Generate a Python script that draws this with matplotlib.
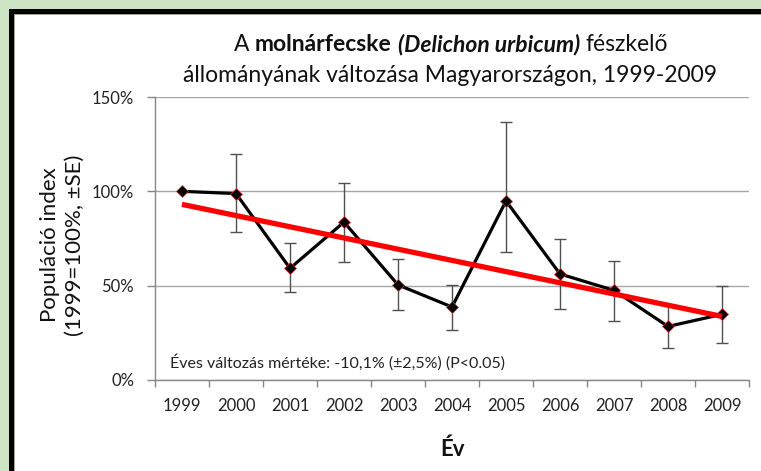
import numpy as np
import matplotlib.pyplot as plt
from matplotlib.patches import Rectangle

years = ['1999', '2000', '2001', '2002', '2003', '2004', '2005', '2006', '2007', '2008', '2009']
index = [100, 98.8, 59.2, 83.7, 50.4, 38.7, 94.9, 56.2, 47.5, 28.4, 34.8]
se_low = [100, 78.7, 46.6, 62.8, 37.1, 26.4, 67.9, 37.6, 31.2, 16.9, 19.5]
se_high = [100, 119.7, 72.5, 104.4, 64.2, 50.4, 136.7, 74.5, 63.1, 39.9, 49.8]
trend_ends = [93.1, 33.7]

W, H = 761, 471
plt.rcParams['font.family'] = ['Lato', 'DejaVu Sans']

fig = plt.figure(figsize=(W / 100, H / 100), dpi=100)
fig.patch.set_facecolor('#cde5c4')

def px(x):
    return x / W

def py(y):
    return 1 - y / H

# frame: black border, thin grey line, white inside
fig.add_artist(Rectangle((px(9), 0), 1, py(9), transform=fig.transFigure,
                         facecolor='black', edgecolor='none', zorder=-3))
fig.add_artist(Rectangle((px(13.5), 0), 1, py(13.5), transform=fig.transFigure,
                         facecolor='#a0a0a0', edgecolor='none', zorder=-2))
fig.add_artist(Rectangle((px(14.5), 0), 1, py(14.5), transform=fig.transFigure,
                         facecolor='white', edgecolor='none', zorder=-1))

ax = fig.add_axes([px(155), py(380), px(749) - px(155), py(97) - py(380)])
ax.set_facecolor('none')

x = np.arange(len(years))
idx = np.array(index)
yerr = [idx - np.array(se_low), np.array(se_high) - idx]
ax.errorbar(x[1:], idx[1:], yerr=[yerr[0][1:], yerr[1][1:]], fmt='none',
            ecolor='#505050', elinewidth=1.0, capsize=4, capthick=1.0, zorder=3)
ax.plot(x, idx, color='black', lw=2.3, zorder=4)
ax.plot(x, idx, ls='none', marker='D', ms=6.5, mfc='black', mec='#e03030', mew=0.5, zorder=5)
ax.plot([x[0], x[-1]], trend_ends, color='#ff0000', lw=3.8, solid_capstyle='butt', zorder=6)

ax.set_xlim(-0.5, len(years) - 0.5)
ax.set_ylim(0, 150)
ax.set_yticks([0, 50, 100, 150])
ax.set_yticklabels(['0%', '50%', '100%', '150%'])
ax.set_xticks(np.arange(-0.5, len(years), 1))
ax.set_xticklabels([])
ax.set_xticks(x, minor=True)
ax.set_xticklabels(years, minor=True)
ax.tick_params(axis='x', which='minor', length=0, pad=13, labelsize=12, labelcolor='#222222')
ax.tick_params(axis='x', which='major', length=5, color='#868686', width=1)
ax.tick_params(axis='y', length=6, color='#868686', width=1, pad=9, labelsize=12,
               labelcolor='#222222')
ax.yaxis.grid(True, color='#a6a6a6', lw=1)
ax.set_axisbelow(True)
for s in ['top', 'right']:
    ax.spines[s].set_visible(False)
for s in ['left', 'bottom']:
    ax.spines[s].set_color('#868686')
    ax.spines[s].set_linewidth(1)

ax.text(px(170), py(362), 'Éves változás mértéke: -10,1% (±2,5%) (P<0.05)',
        transform=fig.transFigure, fontsize=11.5, va='center', ha='left', color='#222222')

fig.text(px(62), py(245), 'Populáció index\n(1999=100%, ±SE)', rotation=90,
         fontsize=16, ha='center', va='center', linespacing=1.3, color='#111111')
fig.text(px(452), py(449), 'Év', fontsize=16, fontweight='bold', ha='center',
         va='center', color='#111111')

# title with mixed styles
r = fig.canvas.get_renderer()

def title_line(parts, xc, yb, size):
    texts = []
    for s, wt, st in parts:
        t = fig.text(0, py(yb), s, fontsize=size, fontweight=wt, fontstyle=st,
                     va='baseline', ha='left', color='#111111')
        texts.append(t)
    a = fig.text(0, 0, 'xx', fontsize=size)
    b = fig.text(0, 0, 'x x', fontsize=size)
    sp = b.get_window_extent(r).width - a.get_window_extent(r).width
    a.remove()
    b.remove()
    widths = [t.get_window_extent(r).width for t in texts]
    total = sum(widths) + sp * (len(texts) - 1)
    xx = xc - total / 2
    for t, wd in zip(texts, widths):
        t.set_x(px(xx))
        xx += wd + sp

title_line([('A', 'normal', 'normal'), ('molnárfecske', 'bold', 'normal'),
            ('(Delichon urbicum)', 'bold', 'italic'), ('fészkelő', 'normal', 'normal')],
           451, 51, 16.5)
title_line([('állományának változása Magyarországon, 1999-2009', 'normal', 'normal')],
           450, 82, 16.5)

fig.savefig('out.png', dpi=100, facecolor=fig.get_facecolor())
